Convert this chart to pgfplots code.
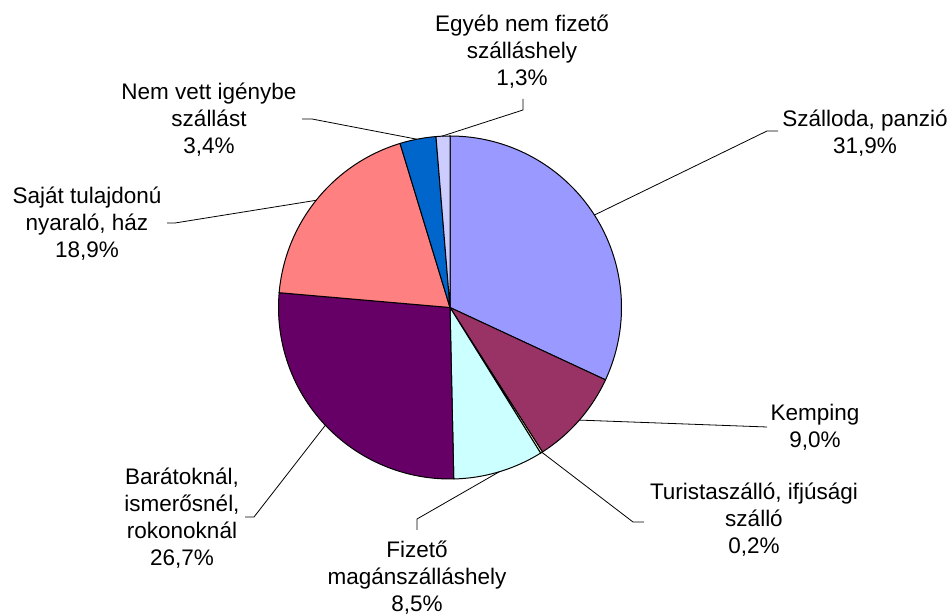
\documentclass[border=0pt]{standalone}
\usepackage{pgfplots}
\usepackage{pgfplotstable}
\pgfplotsset{compat=1.18}
\usepackage{fontspec}
\setmainfont{Liberation Sans}
\definecolor{c1}{HTML}{9999FF}
\definecolor{c2}{HTML}{993366}
\definecolor{c3}{HTML}{FFFFCC}
\definecolor{c4}{HTML}{CCFFFF}
\definecolor{c5}{HTML}{660066}
\definecolor{c6}{HTML}{FF8080}
\definecolor{c7}{HTML}{0066CC}
\definecolor{c8}{HTML}{CCCCFF}
\tikzset{lbl/.style={font=\fontsize{22.5bp}{27bp}\selectfont, align=center, inner sep=0pt}}
\pgfplotstableread[col sep=comma]{
pct,color
31.9,c1
9.0,c2
0.2,c3
8.5,c4
26.7,c5
18.9,c6
3.4,c7
1.3,c8
}\piedata
\begin{document}
\begin{tikzpicture}
\begin{axis}[
  scale only axis, width=952bp, height=616bp,
  xmin=-450, xmax=502, ymin=-308.5, ymax=307.5,
  hide axis, clip=false,
]
\path (axis cs:-450,-308.5) (axis cs:502,307.5);
\pgfmathsetmacro\cum{0}
\pgfplotsforeachungrouped \i in {0,...,7}{%
  \pgfplotstablegetelem{\i}{pct}\of\piedata \let\p\pgfplotsretval
  \pgfplotstablegetelem{\i}{color}\of\piedata \let\col\pgfplotsretval
  \pgfmathsetmacro\a{90-\cum*3.603604}%
  \pgfmathsetmacro\b{90-(\cum+\p)*3.603604}%
  \edef\cmd{\noexpand\addplot[fill=\col, draw=black, line width=1bp, line join=miter, data cs=polar, domain=\b:\a, samples=80] (x, 171.5) -- (axis cs:0,0) -- cycle;}%
  \cmd
  \pgfmathsetmacro\cum{\cum+\p}%
}
% leader lines
\draw[line width=0.8bp] (axis cs:73,208.5) -- (axis cs:73,197.5) -- (axis cs:-8.1,171.3);
\draw[line width=0.8bp] (axis cs:-148,188.5) -- (axis cs:-138,188.5) -- (axis cs:-33.2,168.3);
\draw[line width=0.8bp] (axis cs:-283,84.5) -- (axis cs:-275,84.5) -- (axis cs:-133.8,107.2);
\draw[line width=0.8bp] (axis cs:328,176.5) -- (axis cs:317,176.5) -- (axis cs:144.5,92.5);
\draw[line width=0.8bp] (axis cs:317,-119.5) -- (axis cs:129.4,-112.6);
\draw[line width=0.8bp] (axis cs:194,-214.5) -- (axis cs:183,-214.5) -- (axis cs:91.9,-144.8);
\draw[line width=0.8bp] (axis cs:-33,-222.5) -- (axis cs:-33,-211.5) -- (axis cs:49.4,-164.2);
\draw[line width=0.8bp] (axis cs:-205,-209.5) -- (axis cs:-196,-209.5) -- (axis cs:-124.7,-117.8);
% labels
\node[lbl] at (axis cs:415,174.5) {Szálloda, panzió\\31,9\%};
\node[lbl] at (axis cs:365,-119.5) {Kemping\\9,0\%};
\node[lbl] at (axis cs:304,-212.5) {Turistaszálló, ifjúsági\\szálló\\0,2\%};
\node[lbl] at (axis cs:-33,-270.5) {Fizető\\magánszálláshely\\8,5\%};
\node[lbl] at (axis cs:-268,-210.5) {Barátoknál,\\ismerősnél,\\rokonoknál\\26,7\%};
\node[lbl] at (axis cs:-363,83.5) {Saját tulajdonú\\nyaraló, ház\\18,9\%};
\node[lbl] at (axis cs:-241,187.5) {Nem vett igénybe\\szállást\\3,4\%};
\node[lbl] at (axis cs:72,255.5) {Egyéb nem fizető\\szálláshely\\1,3\%};
\end{axis}
\end{tikzpicture}
\end{document}
